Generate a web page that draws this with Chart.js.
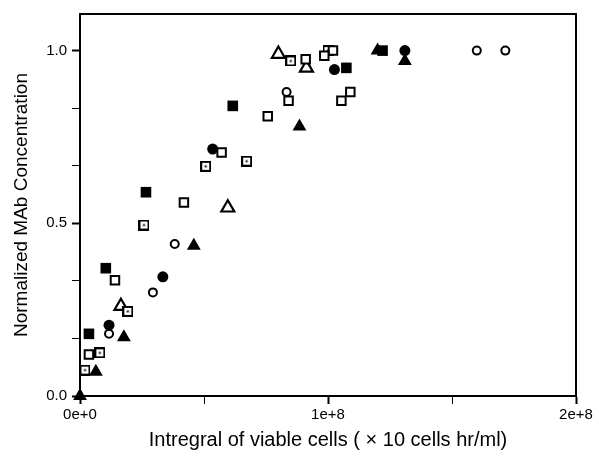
<!DOCTYPE html>
<html>
<head>
<meta charset="utf-8">
<script src="https://cdn.jsdelivr.net/npm/chart.js@4.4.1/dist/chart.umd.min.js"></script>
<style>
    html, body { margin: 0; padding: 0; background: #fff; }
    #wrap { width: 599px; height: 460px; }
</style>
</head>
<body>
<div id="wrap"><canvas id="mabChart"></canvas></div>
<script>
// x values: integral of viable cells, y values: normalized MAb concentration
const filledSquareX = [3.6e6, 1.04e7, 2.66e7, 6.16e7, 1.074e8, 1.22e8]
const filledSquareY = [0.18, 0.37, 0.59, 0.84, 0.95, 1.0]

const openSquareX = [3.6e6, 1.41e7, 4.19e7, 5.71e7, 7.57e7, 8.41e7, 9.1e7, 1.02e8, 9.85e7, 1.054e8, 1.09e8]
const openSquareY = [0.12, 0.335, 0.56, 0.705, 0.81, 0.855, 0.975, 1.0, 0.985, 0.855, 0.88]

const dotSquareX = [2e6, 8e6, 1.93e7, 2.58e7, 5.07e7, 6.72e7, 8.5e7, 1.0e8]
const dotSquareY = [0.075, 0.125, 0.245, 0.495, 0.665, 0.68, 0.97, 1.0]

const filledCircleX = [1.17e7, 3.34e7, 5.35e7, 1.026e8, 1.31e8]
const filledCircleY = [0.205, 0.345, 0.715, 0.945, 1.0]

const openCircleX = [1.17e7, 2.94e7, 3.82e7, 8.33e7, 1.6e8, 1.715e8]
const openCircleY = [0.18, 0.30, 0.44, 0.88, 1.0, 1.0]

const filledTriangleX = [0, 6.4e6, 1.77e7, 4.59e7, 8.85e7, 1.2e8, 1.31e8]
const filledTriangleY = [0, 0.07, 0.17, 0.435, 0.78, 1.0, 0.97]

const openTriangleX = [1.65e7, 5.96e7, 8.0e7, 9.13e7]
const openTriangleY = [0.26, 0.545, 0.99, 0.95]

const xTickValues = [0, 0.5e8, 1e8, 1.5e8, 2e8]
const xTickLabels = ['0e+0', '', '1e+8', '', '2e+8']
const yTickValues = [0, 1 / 6, 2 / 6, 0.5, 4 / 6, 5 / 6, 1]
const yTickLabels = ['0.0', '', '', '0.5', '', '', '1.0']

function toPoints(xs, ys) {
    return xs.map((x, i) => ({x: x, y: ys[i]}))
}

// open square with a small dot in the middle
function dotSquareImage() {
    const c = document.createElement('canvas')
    c.width = 11
    c.height = 11
    const g = c.getContext('2d')
    g.fillStyle = '#fff'
    g.fillRect(0, 0, 11, 11)
    g.strokeStyle = '#000'
    g.lineWidth = 2
    g.strokeRect(1, 1, 9, 9)
    g.fillStyle = '#000'
    g.fillRect(4.5, 4.5, 2, 2)
    return c
}

const frame = {
    id: 'frame',
    afterDraw(chart) {
        const {ctx, chartArea: a} = chart
        ctx.save()
        ctx.strokeStyle = '#000'
        ctx.lineWidth = 2
        ctx.beginPath()
        ctx.moveTo(a.left, a.top)
        ctx.lineTo(a.right, a.top)
        ctx.lineTo(a.right, a.bottom)
        ctx.stroke()
        ctx.restore()
    }
}

window.addEventListener('DOMContentLoaded', function () {
    const ctx = document.getElementById('mabChart')
    const font = {family: '"Liberation Sans", Arial, sans-serif', size: 15}

    new Chart(ctx, {
        type: 'scatter',
        data: {
            datasets: [
                {data: toPoints(filledSquareX, filledSquareY), pointStyle: 'rect', pointRadius: 7.5,
                    backgroundColor: '#000', borderColor: '#000', borderWidth: 0},
                {data: toPoints(openSquareX, openSquareY), pointStyle: 'rect', pointRadius: 6,
                    backgroundColor: '#fff', borderColor: '#000', borderWidth: 2},
                {data: toPoints(dotSquareX, dotSquareY), pointStyle: dotSquareImage(), pointRadius: 6},
                {data: toPoints(filledCircleX, filledCircleY), pointStyle: 'circle', pointRadius: 5.5,
                    backgroundColor: '#000', borderColor: '#000', borderWidth: 0},
                {data: toPoints(openCircleX, openCircleY), pointStyle: 'circle', pointRadius: 4,
                    backgroundColor: '#fff', borderColor: '#000', borderWidth: 2},
                {data: toPoints(filledTriangleX, filledTriangleY), pointStyle: 'triangle', pointRadius: 8,
                    backgroundColor: '#000', borderColor: '#000', borderWidth: 0},
                {data: toPoints(openTriangleX, openTriangleY), pointStyle: 'triangle', pointRadius: 7.5,
                    backgroundColor: '#fff', borderColor: '#000', borderWidth: 2.2},
            ].map(d => Object.assign(d, {clip: false, pointHoverRadius: d.pointRadius}))
        },
        options: {
            responsive: true,
            maintainAspectRatio: false,
            animation: false,
            layout: {padding: {top: 11, right: 23, bottom: 0, left: 0}},
            plugins: {legend: {display: false}, tooltip: {enabled: false}},
            scales: {
                x: {
                    type: 'linear',
                    min: 0,
                    max: 2e8,
                    afterBuildTicks: scale => { scale.ticks = xTickValues.map(v => ({value: v})) },
                    afterFit: scale => { scale.height = 64 },
                    ticks: {
                        autoSkip: false, maxRotation: 0, padding: 2, color: '#000', font: font,
                        callback: (value, index) => xTickLabels[index]
                    },
                    grid: {
                        drawOnChartArea: false, tickLength: 8, tickColor: '#000',
                        tickWidth: c => xTickLabels[c.index] ? 2 : 1
                    },
                    border: {color: '#000', width: 2},
                    title: {
                        display: true, color: '#000', padding: {top: 0, bottom: 8},
                        font: {family: '"Liberation Sans", Arial, sans-serif', size: 20},
                        text: 'Intregral of viable cells ( × 10 cells hr/ml)'
                    }
                },
                y: {
                    type: 'linear',
                    min: 0,
                    max: 1.106,
                    afterBuildTicks: scale => { scale.ticks = yTickValues.map(v => ({value: v})) },
                    afterFit: scale => { scale.width = 80 },
                    ticks: {
                        autoSkip: false, padding: 5, color: '#000', font: font,
                        callback: (value, index) => yTickLabels[index]
                    },
                    grid: {
                        drawOnChartArea: false, tickLength: 8, tickColor: '#000',
                        tickWidth: c => yTickLabels[c.index] ? 2 : 1
                    },
                    border: {color: '#000', width: 2},
                    title: {
                        display: true, color: '#000', padding: {top: 10, bottom: 0},
                        font: {family: '"Liberation Sans", Arial, sans-serif', size: 19},
                        text: 'Normalized MAb Concentration'
                    }
                }
            }
        },
        plugins: [frame]
    })
})
</script>
</body>
</html>
